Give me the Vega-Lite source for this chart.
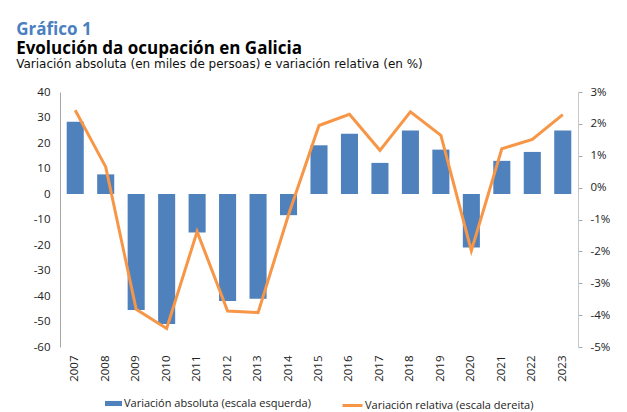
{
  "$schema": "https://vega.github.io/schema/vega-lite/v6.json",
  "background": "white",
  "padding": {"left": 16, "top": 21, "right": 10, "bottom": 2},
  "title": {"text": "Gráfico 1", "anchor": "start", "frame": "bounds", "color": "#4a7fc0", "font": "Open Sans", "fontSize": 17, "fontWeight": "bold", "offset": 1, "dx": 0},
  "config": {
    "view": {"stroke": null},
    "font": "Open Sans",
    "axis": {"labelFont": "Open Sans", "labelFontSize": 11, "labelColor": "#222222", "domainColor": "#a6a6a6", "grid": false, "title": null, "labelOverlap": false},
    "legend": {"labelFont": "Open Sans", "labelFontSize": 11, "labelColor": "#222222", "labelLimit": 400, "offset": 12, "layout": {"bottom": {"anchor": "middle", "direction": "horizontal", "margin": 30}}}
  },
  "vconcat": [
    {
      "width": 518,
      "height": 255,
      "title": {
        "text": "Evolución da ocupación en Galicia",
        "subtitle": "Variación  absoluta (en miles de persoas) e variación relativa (en %)",
        "anchor": "start",
        "frame": "bounds",
        "dx": -17,
        "font": "Open Sans",
        "fontSize": 17,
        "fontWeight": "bold",
        "color": "#000000",
        "subtitleFont": "DejaVu Sans",
        "subtitleFontSize": 12,
        "subtitleColor": "#111111",
        "subtitlePadding": 1,
        "offset": 15
      },
      "data": {
        "values": [
          {"year": "2007", "abs": 28.3, "rel": 2.43},
          {"year": "2008", "abs": 7.7, "rel": 0.65},
          {"year": "2009", "abs": -45.5, "rel": -3.82},
          {"year": "2010", "abs": -51.0, "rel": -4.42},
          {"year": "2011", "abs": -15.1, "rel": -1.38},
          {"year": "2012", "abs": -42.0, "rel": -3.87},
          {"year": "2013", "abs": -41.1, "rel": -3.92},
          {"year": "2014", "abs": -8.3, "rel": -0.85},
          {"year": "2015", "abs": 19.1, "rel": 1.95},
          {"year": "2016", "abs": 23.6, "rel": 2.3},
          {"year": "2017", "abs": 12.2, "rel": 1.17},
          {"year": "2018", "abs": 24.9, "rel": 2.38},
          {"year": "2019", "abs": 17.4, "rel": 1.64},
          {"year": "2020", "abs": -21.0, "rel": -1.98},
          {"year": "2021", "abs": 13.0, "rel": 1.22},
          {"year": "2022", "abs": 16.5, "rel": 1.51},
          {"year": "2023", "abs": 24.9, "rel": 2.29}
        ]
      },
      "encoding": {
        "x": {
          "field": "year", "type": "ordinal",
          "scale": {"paddingInner": 0.44, "paddingOuter": 0.22},
          "axis": {"labelAngle": -90, "labelAlign": "right", "labelBaseline": "middle", "domain": false, "ticks": false, "labelPadding": 8, "labelFontSize": 11.5}
        }
      },
      "layer": [
        {
          "mark": {"type": "bar"},
          "encoding": {
            "y": {
              "field": "abs", "type": "quantitative",
              "scale": {"domain": [-60, 40], "nice": false, "zero": false},
              "axis": {"orient": "left", "values": [-60, -50, -40, -30, -20, -10, 0, 10, 20, 30, 40], "labelOverlap": false, "labelExpr": "'' + datum.value", "domain": true, "domainColor": "#a6a6a6", "ticks": false, "labelPadding": 10, "labelFontSize": 11.5}
            },
            "color": {
              "datum": "Variación absoluta (escala esquerda)",
              "scale": {"range": ["#4f81bd"]},
              "legend": {"orient": "bottom", "direction": "horizontal", "title": null, "symbolType": "M-1,-0.3H1V0.3H-1Z", "symbolSize": 289, "labelOffset": 1}
            }
          }
        },
        {
          "mark": {"type": "rule", "color": "#a6a6a6", "strokeWidth": 1},
          "encoding": {"y": {"datum": 0, "type": "quantitative", "scale": {"domain": [-60, 40], "nice": false, "zero": false}, "axis": null}}
        },
        {
          "mark": {"type": "line", "strokeWidth": 3},
          "encoding": {
            "y": {
              "field": "rel", "type": "quantitative",
              "scale": {"domain": [-5, 3], "nice": false, "zero": false},
              "axis": {"orient": "right", "values": [-5, -4, -3, -2, -1, 0, 1, 2, 3], "labelOverlap": false, "domain": true, "domainColor": "#c8c8c8", "ticks": true, "tickSize": 4, "tickColor": "#a6a6a6", "labelPadding": 8, "labelFontSize": 11.5, "labelExpr": "datum.value + '%'"}
            },
            "color": {
              "datum": "Variación relativa (escala dereita)",
              "scale": {"range": ["#f79646"]},
              "legend": {"orient": "bottom", "direction": "horizontal", "title": null, "symbolType": "stroke", "symbolStrokeWidth": 3, "symbolSize": 400, "labelOffset": 1}
            }
          }
        }
      ],
      "resolve": {"scale": {"y": "independent", "color": "independent"}}
    }
  ]
}
